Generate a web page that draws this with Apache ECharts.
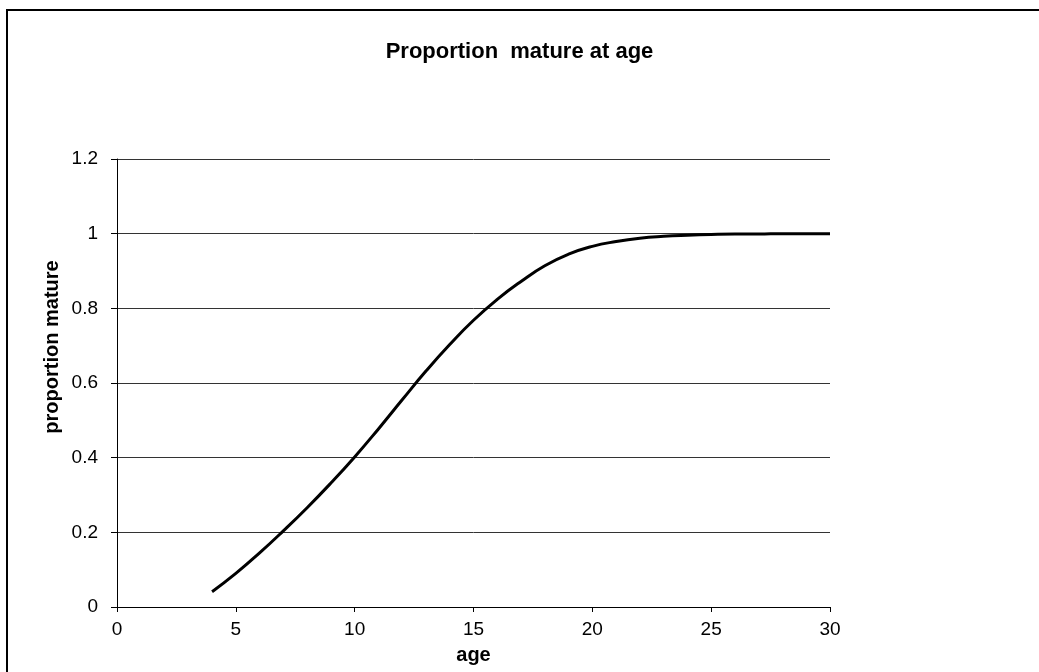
<!DOCTYPE html>
<html>
<head>
<meta charset="utf-8">
<title>Proportion mature at age</title>
<script src="https://cdn.jsdelivr.net/npm/echarts@6/dist/echarts.min.js"></script>
<style>
  html, body { margin: 0; padding: 0; background: #fff; }
  #chart { width: 1039px; height: 672px; }
</style>
</head>
<body>
<div id="chart"></div>
<script>
// values
const ages = [4, 5, 6, 7, 8, 9, 10, 11, 12, 13, 14, 15, 16, 17, 18, 19, 20, 21, 22, 23, 24, 25, 26, 27, 28, 29, 30];
const proportionMature = [
  0.041, 0.09, 0.145, 0.204, 0.266, 0.332, 0.402, 0.477, 0.555, 0.632, 0.703, 0.768, 0.824, 0.872,
  0.914, 0.945, 0.966, 0.979, 0.988, 0.993, 0.996, 0.998, 0.999, 0.999, 1.0, 1.0, 1.0
];
const xTicks = [0, 5, 10, 15, 20, 25, 30];
const yTicks = [0, 0.2, 0.4, 0.6, 0.8, 1, 1.2];

const chart = echarts.init(document.getElementById('chart'));
const font = '"Liberation Sans", Arial, sans-serif';

const option = {
  backgroundColor: '#fff',
  animation: false,
  title: {
    text: 'Proportion  mature at age',
    left: 'center',
    top: 36,
    textStyle: { fontFamily: font, fontSize: 22, fontWeight: 'bold', color: '#000' }
  },
  grid: { left: 117, right: 209, top: 159, bottom: 65 },
  xAxis: {
    type: 'value',
    min: xTicks[0],
    max: xTicks[xTicks.length - 1],
    interval: 5,
    name: 'age',
    nameLocation: 'middle',
    nameGap: 38,
    nameTextStyle: { fontFamily: font, fontSize: 20, fontWeight: 'bold', color: '#000' },
    axisLine: { lineStyle: { color: '#000', width: 1 } },
    axisTick: { show: true, length: 5, lineStyle: { color: '#000' } },
    axisLabel: { fontFamily: font, fontSize: 19, color: '#000', margin: 13 },
    splitLine: { show: false }
  },
  yAxis: {
    type: 'value',
    min: yTicks[0],
    max: yTicks[yTicks.length - 1],
    interval: 0.2,
    axisLine: { show: true, lineStyle: { color: '#000', width: 1 } },
    axisTick: { show: true, length: 6, lineStyle: { color: '#000' } },
    axisLabel: {
      fontFamily: font, fontSize: 19, color: '#000', margin: 19,
      formatter: v => String(Math.round(v * 10) / 10)
    },
    splitLine: { show: true, lineStyle: { color: '#333', width: 1 } }
  },
  series: [{
    type: 'line',
    data: ages.map((a, i) => [a, proportionMature[i]]),
    smooth: true,
    showSymbol: false,
    lineStyle: { color: '#000', width: 3 }
  }],
  graphic: [
    {
      type: 'rect',
      shape: { x: 7, y: 10, width: 1100, height: 700 },
      style: { fill: 'none', stroke: '#000', lineWidth: 2 },
      silent: true
    },
    {
      // y axis title sits above the plot's centre in the reference
      type: 'text',
      x: 52,
      y: 347,
      rotation: Math.PI / 2,
      style: {
        text: 'proportion mature',
        font: 'bold 20px "Liberation Sans", Arial, sans-serif',
        fill: '#000',
        align: 'center',
        verticalAlign: 'middle'
      },
      silent: true
    }
  ]
};

chart.setOption(option);
</script>
</body>
</html>
